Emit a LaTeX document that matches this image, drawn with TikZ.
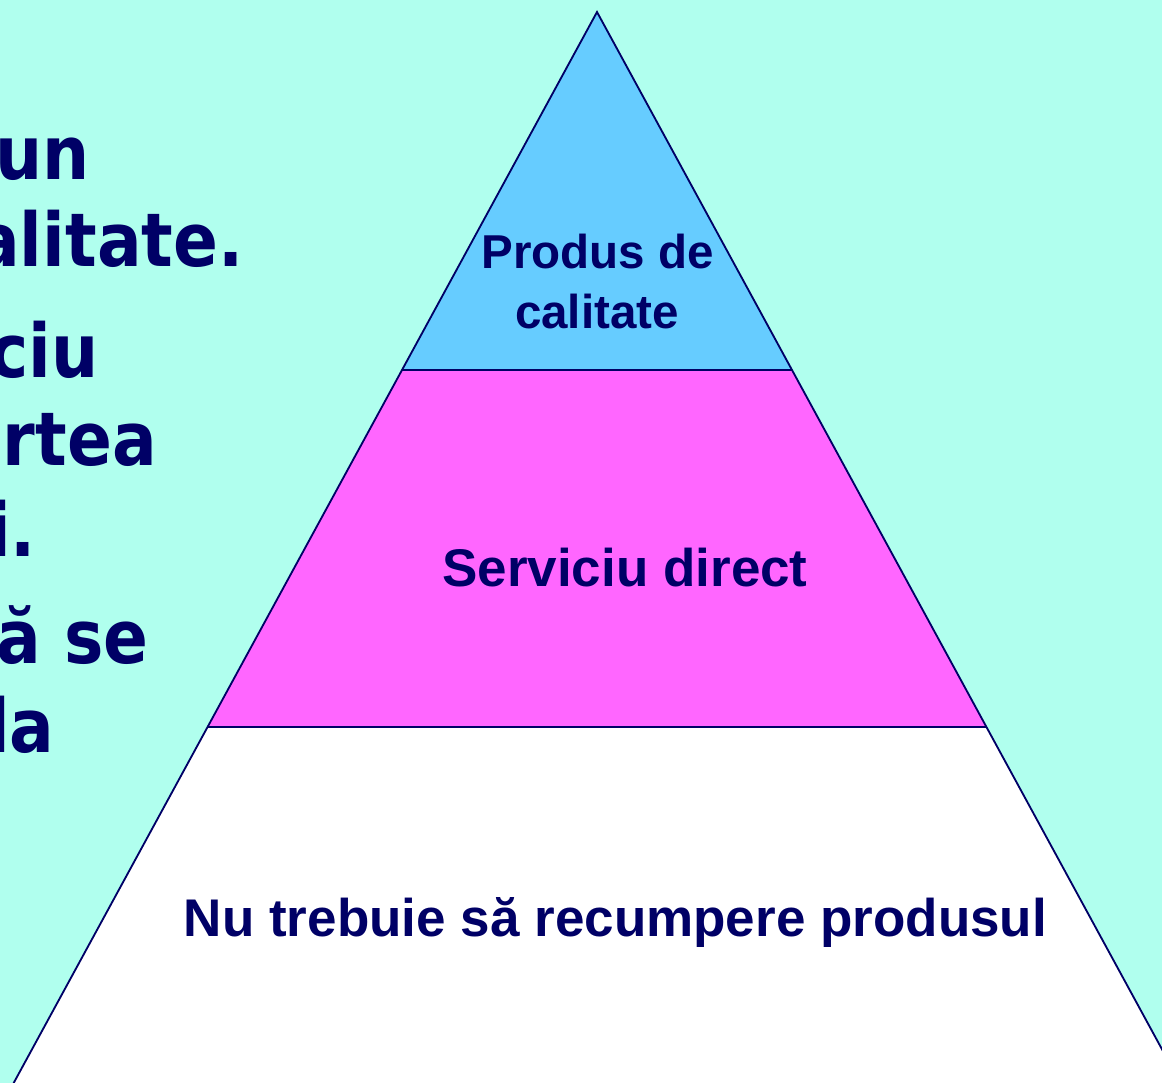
\documentclass[tikz,border=0pt]{standalone}
\usepackage{fontspec}
\usepackage{graphicx}
\setmainfont{Liberation Sans}
\newfontfamily\slidefont{DejaVu Sans}
\definecolor{slidebg}{RGB}{176,255,238}
\definecolor{topblue}{RGB}{102,204,255}
\definecolor{midpink}{RGB}{255,102,255}
\definecolor{navy}{RGB}{0,0,102}
\newcommand{\stretchtext}[1]{\scalebox{1.07}[1.2]{#1}}

\begin{document}
\begin{tikzpicture}[x=0.025cm,y=-0.025cm,
    level/.style={draw=navy,line width=1.3pt},
    leveltext/.style={text=navy,anchor=base,inner sep=0pt,font=\bfseries\fontsize{33.8}{40}\selectfont},
    slidetext/.style={text=navy,anchor=base west,inner sep=0pt,font=\slidefont\bfseries\fontsize{44}{52}\selectfont}]

      \useasboundingbox (0,0) rectangle (1162,1083);
      \clip (0,0) rectangle (1162,1083);
      \fill[slidebg] (0,0) rectangle (1162,1083);

      % text of the slide, cut by its left edge
      \foreach \x/\y/\t [count=\i] in {-5/180/un,-25/267/alitate.,-11/377/ciu,-42/465/artea,-12/556/i.,-4/663/ă se,-13/752/la}  {
      	\node[slidetext] (line\i) at (\x,\y) {\stretchtext{\t}};
      }

      % pyramid
      \coordinate (apex) at (597,12);
      \coordinate (tl) at (402,370);
      \coordinate (tr) at (792,370);
      \coordinate (ml) at (207.5,727);
      \coordinate (mr) at (986.5,727);
      \coordinate (bl) at (4.4,1100);
      \coordinate (br) at (1189.6,1100);

      \fill[white] (ml) -- (bl) -- (br) -- (mr) -- cycle;
      \fill[midpink] (tl) -- (ml) -- (mr) -- (tr) -- cycle;
      \fill[topblue] (apex) -- (tl) -- (tr) -- cycle;
      \draw[level] (bl) -- (apex) -- (br);
      \draw[level] (tl) -- (tr);
      \draw[level] (ml) -- (mr);

      \node[leveltext] (top1) at (597.5,269) {Produs de};
      \node[leveltext] (top2) at (597,328) {calitate};
      \node[leveltext,font=\bfseries\fontsize{37.7}{44}\selectfont] (middle) at (625,586) {Serviciu direct};
      \node[leveltext,font=\bfseries\fontsize{37.7}{44}\selectfont] (bottom) at (615.5,936) {Nu trebuie să recumpere produsul};

\end{tikzpicture}
\end{document}
